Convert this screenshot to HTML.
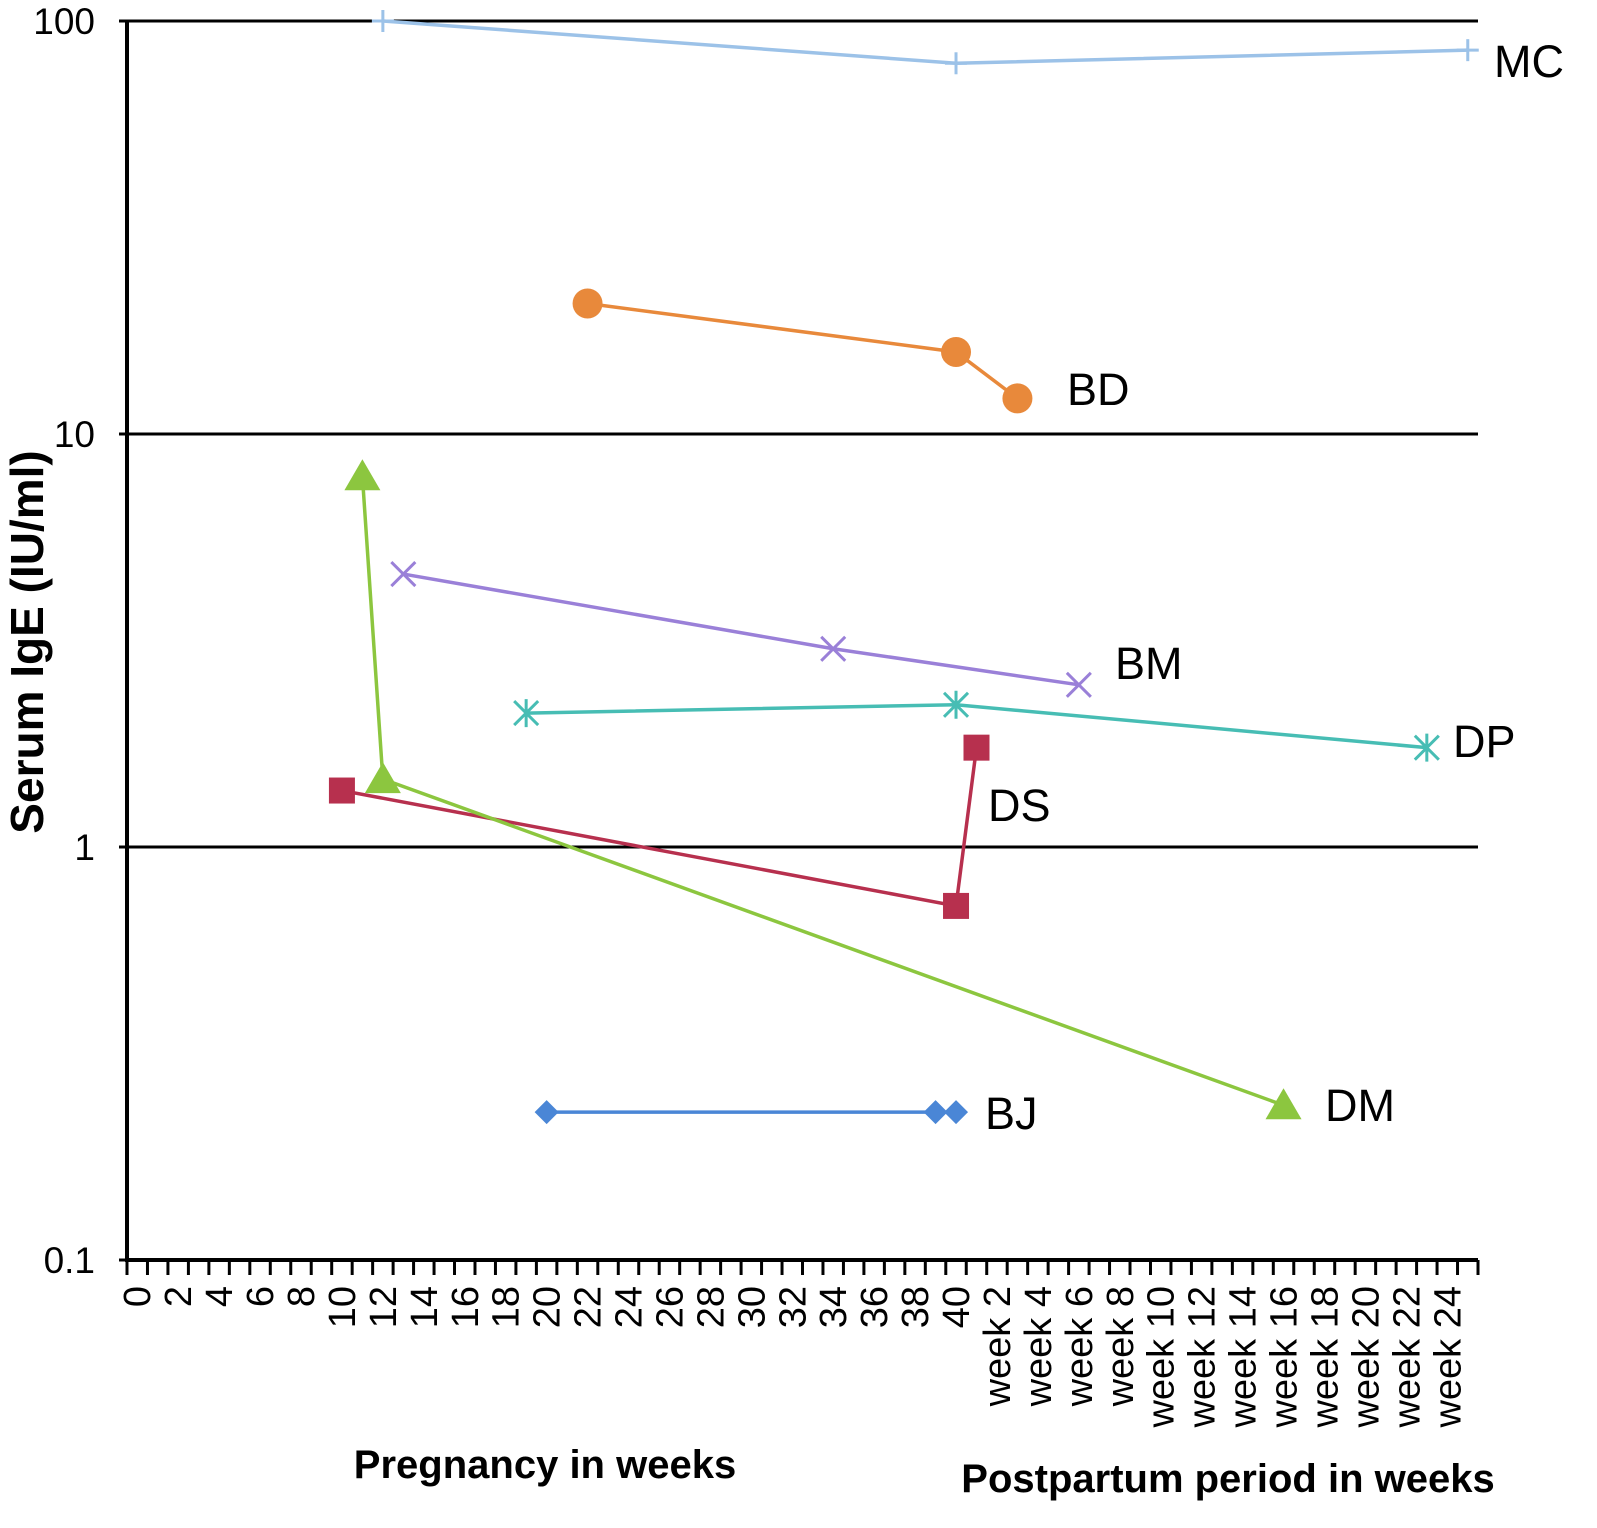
<!DOCTYPE html>
<html><head><meta charset="utf-8"><style>
html,body{margin:0;padding:0;background:#fff;}
svg{display:block;font-family:"Liberation Sans",Arial,sans-serif;}
</style></head><body>
<svg id="chart" width="1597" height="1528" viewBox="0 0 1597 1528"></svg>
<script>
const categories=[];for(let i=0;i<=40;i++)categories.push(String(i));for(let w=1;w<=25;w++)categories.push('week '+w);
const yTicks=[0.1,1,10,100];
const yTickLabels=['0.1','1','10','100'];
const mcX=[12,40,65], mcY=[100,79,85];
const bdX=[22,40,43], bdY=[20.7,15.8,12.2];
const bmX=[13,34,46], bmY=[4.58,3.02,2.47];
const dpX=[19,40,63], dpY=[2.11,2.21,1.74];
const dsX=[10,40,41], dsY=[1.37,0.72,1.74];
const dmX=[11,12,56], dmY=[7.9,1.46,0.237];
const bjX=[20,39,40], bjY=[0.228,0.228,0.228];
const seriesNames=['MC','BD','BM','DP','DS','DM','BJ'];
const L=127,R=1478,T=21,B=1260;
const cw=(R-L)/categories.length;
const xs=i=>L+(i+0.5)*cw;
const ys=v=>B-(Math.log10(v)+1)/3*(B-T);
const NS='http://www.w3.org/2000/svg';
const svg=document.getElementById('chart');
function mk(t,a,p){const e=document.createElementNS(NS,t);for(const k in a)e.setAttribute(k,a[k]);(p||svg).appendChild(e);return e;}
yTicks.forEach((v,i)=>{
  if(i>0){const g=mk('line',{x1:L,x2:R,y1:ys(v),y2:ys(v),stroke:'#000','stroke-width':3});
  
  }
  const t=mk('text',{x:95,y:ys(v)+13,'text-anchor':'end','font-size':37,fill:'#000'});
  t.textContent=yTickLabels[i];
  
  
  mk('line',{x1:L-8,x2:L,y1:ys(v),y2:ys(v),stroke:'#000','stroke-width':3});
});
const ya=mk('line',{x1:L,x2:L,y1:T,y2:B,stroke:'#000','stroke-width':4});


const xa=mk('line',{x1:L-2,x2:R,y1:B,y2:B,stroke:'#000','stroke-width':4});


for(let i=0;i<=categories.length;i++){mk('line',{x1:L+i*cw,x2:L+i*cw,y1:B,y2:B+15,stroke:'#000','stroke-width':3});}
categories.forEach((c,i)=>{
  const isWeek=c.startsWith('week');const n=isWeek?parseInt(c.slice(5)):parseInt(c);
  if(n%2!==0)return;
  const x=xs(i)+13,y=1286;
  const t=mk('text',{x:x,y:y,'text-anchor':'end','font-size':38,fill:'#000',transform:`rotate(-90 ${x} ${y})`});
  t.textContent=c;
  
  
});
function txt(s,x,y,sz,name,extra){const t=mk('text',Object.assign({x:x,y:y,'font-size':sz,fill:'#000'},extra||{}));t.textContent=s;

return t;}
txt('Serum IgE (IU/ml)',43,642,46,'y-axis-title',{'font-weight':'bold','text-anchor':'middle',transform:'rotate(-90 43 642)'});
txt('Pregnancy in weeks',545,1478,40,'x-axis-title-pregnancy',{'font-weight':'bold','text-anchor':'middle'});
txt('Postpartum period in weeks',1228,1492,40,'x-axis-title-postpartum',{'font-weight':'bold','text-anchor':'middle'});
function marker(type,x,y,col,g){
  if(type==='plus'){mk('line',{x1:x,x2:x,y1:y-11,y2:y+11,stroke:col,'stroke-width':3},g);mk('line',{x1:x-11,x2:x+11,y1:y,y2:y,stroke:col,'stroke-width':3},g);}
  else if(type==='circle')mk('circle',{cx:x,cy:y,r:15,fill:col},g);
  else if(type==='x'){mk('path',{d:`M${x-12} ${y-12}L${x+12} ${y+12}M${x+12} ${y-12}L${x-12} ${y+12}`,stroke:col,'stroke-width':3},g);}
  else if(type==='star'){mk('path',{d:`M${x-12} ${y-12}L${x+12} ${y+12}M${x+12} ${y-12}L${x-12} ${y+12}M${x} ${y-14}L${x} ${y+14}`,stroke:col,'stroke-width':3},g);}
  else if(type==='square')mk('rect',{x:x-13,y:y-13,width:26,height:26,fill:col},g);
  else if(type==='tri')mk('path',{d:`M${x} ${y-17}L${x+18} ${y+14}L${x-18} ${y+14}Z`,fill:col},g);
  else if(type==='diamond')mk('path',{d:`M${x} ${y-12}L${x+12} ${y}L${x} ${y+12}L${x-12} ${y}Z`,fill:col},g);
}
const defs=[
 ['MC',mcX,mcY,'#9cc2e8','plus',1494,77],
 ['BD',bdX,bdY,'#e8893b','circle',1067,405],
 ['BM',bmX,bmY,'#9a80d8','x',1115,679],
 ['DP',dpX,dpY,'#47bdb4','star',1453,757],
 ['DS',dsX,dsY,'#b7304e','square',988,821],
 ['DM',dmX,dmY,'#8cc63f','tri',1325,1121],
 ['BJ',bjX,bjY,'#4a86d6','diamond',985,1129]];
defs.forEach(([n,X,Y,col,m,lx,ly])=>{
  const g=mk('g',{});
  
  
  mk('polyline',{points:X.map((x,i)=>xs(x)+','+ys(Y[i])).join(' '),fill:'none',stroke:col,'stroke-width':3.5},g);
  X.forEach((x,i)=>marker(m,xs(x),ys(Y[i]),col,g));
  txt(n,lx,ly,45,'series-label-'+n.toLowerCase());
});
</script>
</body></html>
